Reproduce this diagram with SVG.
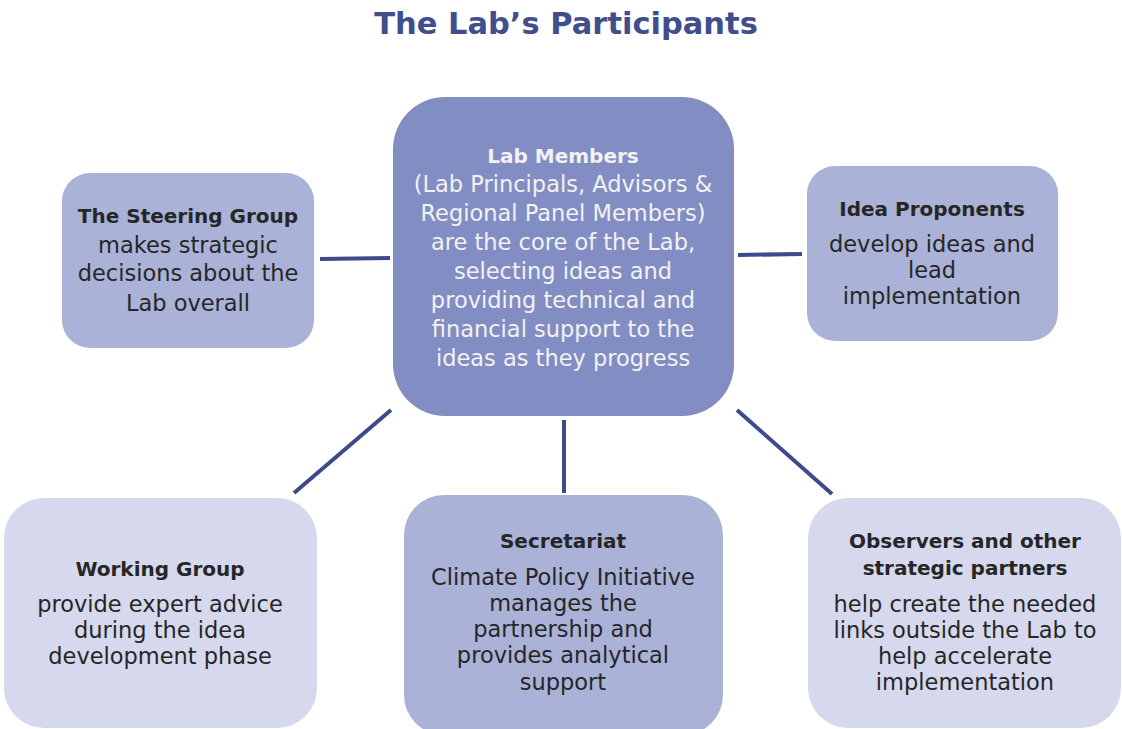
<svg xmlns="http://www.w3.org/2000/svg" width="1122" height="729" viewBox="0 0 1122 729">
<style>
.t{font-family:"DejaVu Sans","Liberation Sans",sans-serif;font-size:22.5px;text-anchor:middle;fill:#262626}
.w{fill:#F2F2F2}
.b{font-weight:bold;font-size:20px}
.c{stroke:#3E4A8A;stroke-width:4;fill:none}
.title{font-family:"DejaVu Sans","Liberation Sans",sans-serif;font-size:30.5px;font-weight:bold;fill:#404E8C;text-anchor:middle}
</style>
<rect width="1122" height="729" fill="#FFFFFF"/>
<text class="title" x="566" y="34">The Lab’s Participants</text>
<g id="connectors">
<line class="c" x1="320" y1="259" x2="390" y2="258"/>
<line class="c" x1="738" y1="255" x2="802" y2="254"/>
<line class="c" x1="391" y1="410" x2="294" y2="493"/>
<line class="c" x1="564" y1="420" x2="564" y2="493"/>
<line class="c" x1="737" y1="410" x2="832" y2="494"/>
</g>
<g id="lab-members">
<rect x="393" y="97" width="341" height="319" rx="52" fill="#828DC3"/>
<text class="t w b" x="563" y="163">Lab Members</text>
<text class="t w" x="563" y="192">(Lab Principals, Advisors &amp;</text>
<text class="t w" x="563" y="221">Regional Panel Members)</text>
<text class="t w" x="563" y="250">are the core of the Lab,</text>
<text class="t w" x="563" y="279">selecting ideas and</text>
<text class="t w" x="563" y="308">providing technical and</text>
<text class="t w" x="563" y="337">financial support to the</text>
<text class="t w" x="563" y="366">ideas as they progress</text>
</g>
<g id="steering-group">
<rect x="62" y="173" width="252" height="175" rx="28" fill="#AAB2D8"/>
<text class="t b" x="188" y="223">The Steering Group</text>
<text class="t" x="188" y="253">makes strategic</text>
<text class="t" x="188" y="281">decisions about the</text>
<text class="t" x="188" y="311">Lab overall</text>
</g>
<g id="idea-proponents">
<rect x="807" y="166" width="251" height="175" rx="28" fill="#AAB2D8"/>
<text class="t b" x="932" y="216">Idea Proponents</text>
<text class="t" x="932" y="252">develop ideas and</text>
<text class="t" x="932" y="278">lead</text>
<text class="t" x="932" y="304">implementation</text>
</g>
<g id="working-group">
<rect x="4" y="498" width="313" height="230" rx="40" fill="#D6D9ED"/>
<text class="t b" x="160" y="576">Working Group</text>
<text class="t" x="160" y="612">provide expert advice</text>
<text class="t" x="160" y="638">during the idea</text>
<text class="t" x="160" y="664">development phase</text>
</g>
<g id="secretariat">
<rect x="404" y="495" width="319" height="240" rx="40" fill="#AAB2D8"/>
<text class="t b" x="563" y="548">Secretariat</text>
<text class="t" x="563" y="585">Climate Policy Initiative</text>
<text class="t" x="563" y="611">manages the</text>
<text class="t" x="563" y="637">partnership and</text>
<text class="t" x="563" y="663">provides analytical</text>
<text class="t" x="563" y="690">support</text>
</g>
<g id="observers">
<rect x="808" y="498" width="313" height="230" rx="40" fill="#D6D9ED"/>
<text class="t b" x="965" y="548">Observers and other</text>
<text class="t b" x="965" y="575">strategic partners</text>
<text class="t" x="965" y="612">help create the needed</text>
<text class="t" x="965" y="638">links outside the Lab to</text>
<text class="t" x="965" y="664">help accelerate</text>
<text class="t" x="965" y="690">implementation</text>
</g>
</svg>
